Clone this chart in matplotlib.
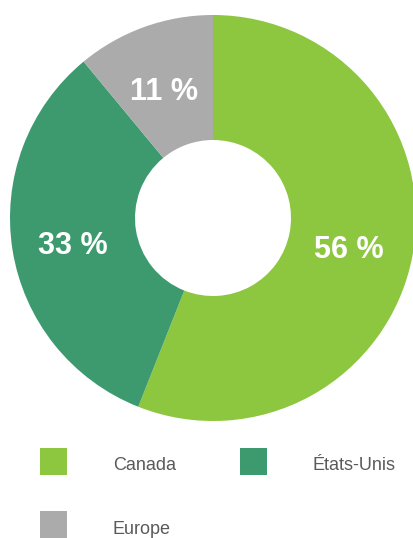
import matplotlib.pyplot as plt
from matplotlib.patches import Rectangle

labels = ['Canada', 'États-Unis', 'Europe']
shares = [56, 33, 11]
colors = ['#8dc63f', '#3c9a6e', '#ababab']

W, H = 414, 538
fig = plt.figure(figsize=(W / 100, H / 100), dpi=100)
ax = fig.add_axes([0, 0, 1, 1])

narrow = ['Liberation Sans Narrow', 'Liberation Sans', 'DejaVu Sans']

# donut, centre and radius in pixel units (y measured from bottom)
wedges, texts, autotexts = ax.pie(
    shares, colors=colors, startangle=90, counterclock=False,
    center=(213, H - 218), radius=203, frame=True,
    wedgeprops=dict(width=203 - 78, linewidth=0),
    autopct=lambda p: f'{round(p)} %', pctdistance=0.69,
    textprops=dict(color='white', fontsize=22, fontweight='bold',
                   family=narrow))

# nudge the percentage labels a little lower, like the original
for t in autotexts:
    x, y = t.get_position()
    t.set_position((x - 2, y - 6))

ax.set_xlim(0, W)
ax.set_ylim(0, H)
ax.set_aspect('equal')
ax.axis('off')

# legend: two columns, squares + grey labels
for i, (lab, col) in enumerate(zip(labels, colors)):
    x0 = 40 + (i % 2) * 200
    yc = H - (461 + (i // 2) * 64)
    ax.add_patch(Rectangle((x0, yc - 13.5), 27, 27, color=col, lw=0))
    ax.text(x0 + 73, yc - 5, lab, fontsize=13, color='#5a5a5a',
            family=narrow, va='center', ha='left')

fig.savefig('out.png', dpi=100)
